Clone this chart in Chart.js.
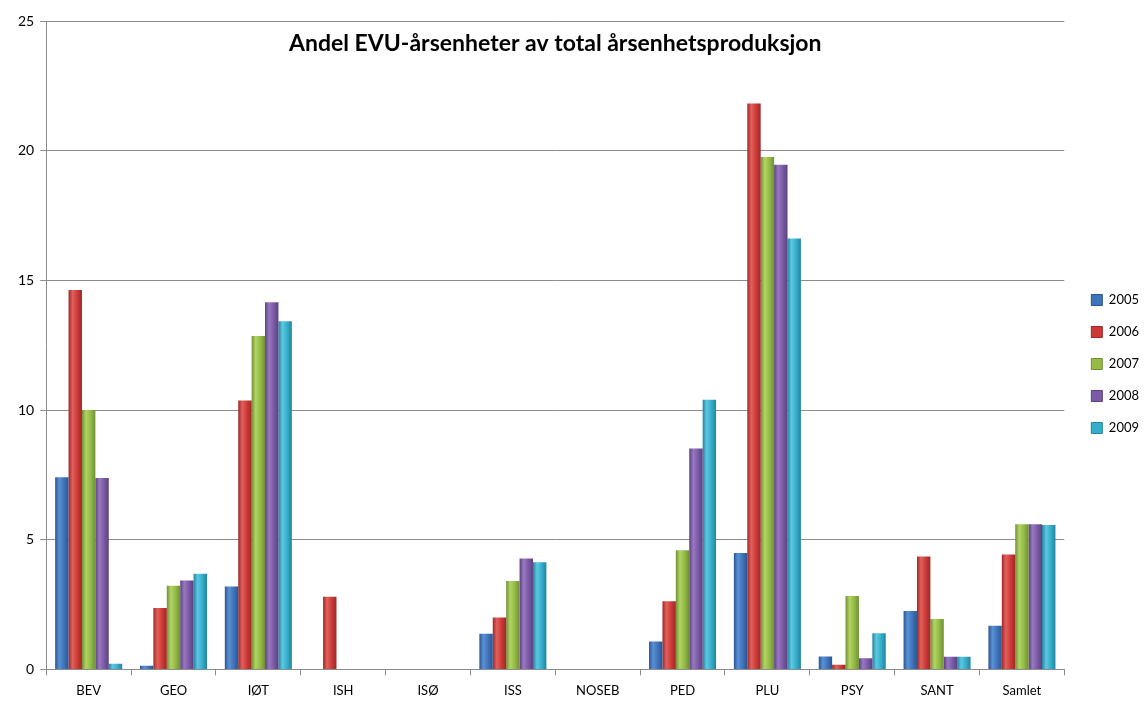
<!DOCTYPE html>
<html>
<head>
<meta charset="utf-8">
<script src="https://cdn.jsdelivr.net/npm/chart.js@4.4.1/dist/chart.umd.min.js"></script>
<style>
html,body{margin:0;padding:0;background:#fff;}
#wrap{width:1145px;height:703px;position:relative;}
</style>
</head>
<body>
<div id="wrap"><canvas id="c" width="1145" height="703"></canvas></div>
<script>
const categories = ["BEV","GEO","IØT","ISH","ISØ","ISS","NOSEB","PED","PLU","PSY","SANT","Samlet"];
const seriesNames = ["2005","2006","2007","2008","2009"];
const v2005 = [7.41, 0.14, 3.20, 0, 0, 1.37, 0, 1.08, 4.49, 0.50, 2.25, 1.68];
const v2006 = [14.63, 2.37, 10.37, 2.80, 0, 2.00, 0, 2.63, 21.82, 0.18, 4.35, 4.43];
const v2007 = [10.00, 3.23, 12.85, 0, 0, 3.41, 0, 4.59, 19.76, 2.83, 1.94, 5.60];
const v2008 = [7.38, 3.43, 14.16, 0, 0, 4.28, 0, 8.52, 19.46, 0.43, 0.49, 5.60];
const v2009 = [0.22, 3.69, 13.42, 0, 0, 4.13, 0, 10.40, 16.61, 1.39, 0.49, 5.57];
const yTicks = [0, 5, 10, 15, 20, 25];
const titleText = "Andel EVU-årsenheter av total årsenhetsproduksjon";

const colors = [
  {base:"#3f74bb", dark:"#2b5592", light:"#5a90d4"},
  {base:"#cc3a37", dark:"#9e2826", light:"#e2605c"},
  {base:"#93bb45", dark:"#6f9035", light:"#b2d465"},
  {base:"#7b5aa6", dark:"#5a4180", light:"#9879c0"},
  {base:"#35aecb", dark:"#23849e", light:"#5cc8e2"}
];
const allValues = [v2005, v2006, v2007, v2008, v2009];

function barFill(ctx, i){
  const chart = ctx.chart;
  const c = colors[i];
  if (ctx.type !== 'data') return c.base;
  const meta = chart.getDatasetMeta(ctx.datasetIndex);
  const el = meta && meta.data[ctx.dataIndex];
  if (!el || !isFinite(el.x) || !el.width) return c.base;
  const x0 = el.x - el.width/2, x1 = el.x + el.width/2;
  const g = chart.ctx.createLinearGradient(x0, 0, x1, 0);
  g.addColorStop(0, c.dark);
  g.addColorStop(0.3, c.light);
  g.addColorStop(0.65, c.base);
  g.addColorStop(1, c.dark);
  return g;
}

const datasets = allValues.map((vals, i) => ({
  label: seriesNames[i],
  data: vals,
  backgroundColor: (ctx) => barFill(ctx, i),
  borderWidth: 0,
  categoryPercentage: 0.79,
  barPercentage: 1.0
}));

const titlePlugin = {
  id: 'innerTitle',
  afterLayout(chart){
    if (chart.legend) { chart.legend.left += 8; chart.legend.right += 8; }
  },
  afterDraw(chart){
    const a = chart.chartArea;
    const c = chart.ctx;
    c.save();
    c.font = "bold 23px Lato, 'Open Sans', sans-serif";
    c.fillStyle = "#000";
    c.textAlign = "center";
    c.textBaseline = "middle";
    c.fillText(titleText, (a.left + a.right)/2, a.top + 23);
    c.restore();
  }
};

const chart = new Chart(document.getElementById('c'), {
  type: 'bar',
  data: { labels: categories, datasets },
  options: {
    responsive: false,
    animation: false,
    layout: { padding: { top: 21, left: 12, right: 4, bottom: -4 } },
    plugins: {
      title: { display: false },
      tooltip: { enabled: false },
      legend: {
        position: 'right',
        align: 'center',
        labels: {
          boxWidth: 11, boxHeight: 11, padding: 19,
          color: '#000',
          font: { family: "Lato, 'Open Sans', sans-serif", size: 13 },
          generateLabels(chart){
            return seriesNames.map((n,i)=>({text:n, fillStyle:colors[i].base, strokeStyle:colors[i].dark, lineWidth:1, datasetIndex:i}));
          }
        }
      }
    },
    scales: {
      x: {
        offset: true,
        grid: { display: true, offset: true, drawOnChartArea: false, drawTicks: true, tickLength: 6, color: '#8c8c8c' },
        border: { display: true, color: '#8c8c8c' },
        ticks: { color: '#000', padding: 8, font: { family: "Lato, 'Open Sans', sans-serif", size: 13 } }
      },
      y: {
        min: 0, max: 25,
        afterBuildTicks(scale){ scale.ticks = yTicks.map(v=>({value:v})); },
        grid: { color: '#8c8c8c', lineWidth: 1, tickLength: 6 },
        border: { display: true, color: '#8c8c8c' },
        ticks: { color: '#000', padding: 6, font: { family: "Lato, 'Open Sans', sans-serif", size: 14 } }
      }
    }
  },
  plugins: [titlePlugin]
});
chart.update('none');
</script>
</body>
</html>
